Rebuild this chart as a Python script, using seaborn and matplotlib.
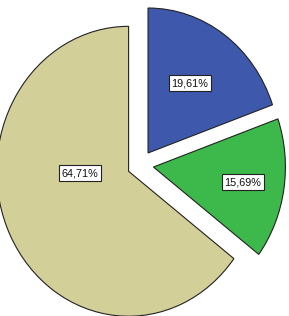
import matplotlib
matplotlib.use("Agg")
import matplotlib.pyplot as plt
import seaborn as sns

sns.set_theme(style="white")
plt.rcParams['font.family'] = ['Liberation Sans', 'DejaVu Sans']

categories = ["A", "B", "C"]
counts = [10, 8, 33]
colors = ["#3e58ac", "#3cb94a", "#d3cf98"]
explode = [0.1, 0.1, 0.1]
label_pos = [(0.376, 0.564), (0.777, -0.119), (-0.458, -0.057)]

fig = plt.figure(figsize=(2.89, 3.16), dpi=100)
ax = fig.add_axes([0, 0, 1, 1])
wedges, texts, autotexts = ax.pie(
    counts, colors=colors, explode=explode, startangle=90, counterclock=False,
    autopct=lambda p: f"{p:.2f}%".replace('.', ','),
    wedgeprops=dict(edgecolor="#222222", linewidth=0.8),
    textprops=dict(fontsize=7.8, color="#111111"),
)
for t, pos in zip(autotexts, label_pos):
    t.set_position(pos)
    t.set_bbox(dict(boxstyle="square,pad=0.25", fc="white", ec="#222222", lw=0.8))
ax.set_aspect('auto')
ax.set_xlim(-1.064, 1.126)
ax.set_ylim(-1.043, 1.137)
ax.axis('off')
fig.savefig("out.png", dpi=100)
